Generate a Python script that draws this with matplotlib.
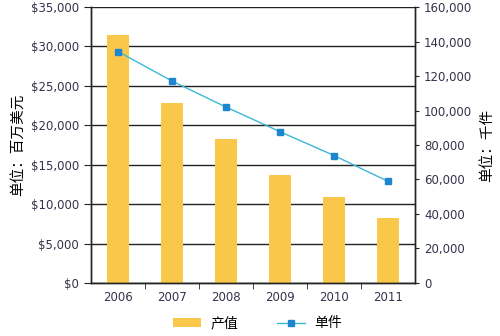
import matplotlib.pyplot as plt
from matplotlib.ticker import FuncFormatter, FixedLocator

plt.rcParams['font.family'] = ['DejaVu Sans', 'Noto Sans CJK SC']

# data
years = ['2006', '2007', '2008', '2009', '2010', '2011']
value_musd = [31400, 22800, 18200, 13700, 10900, 8250]
units_k = [134200, 117100, 102000, 87700, 73900, 58900]

bar_color = '#F9C84A'
line_color = '#3CB8D6'
marker_color = '#1E86CF'
text_color = '#33334D'
cjk = ['Noto Sans CJK SC', 'DejaVu Sans']

fig = plt.figure(figsize=(5, 3.36), dpi=100)
ax = fig.add_axes([0.182, 0.158, 0.648, 0.821])
ax2 = ax.twinx()

x = list(range(len(years)))
bars = ax.bar(x, value_musd, width=0.41, color=bar_color, zorder=2, label='产值')
ax.set_ylim(0, 35000)
ax.set_xlim(-0.5, len(years) - 0.5)
ax.set_yticks(range(0, 35001, 5000))
ax.yaxis.set_major_formatter(FuncFormatter(lambda v, p: '${:,.0f}'.format(v)))
ax.grid(axis='y', color='#222222', linewidth=1.0, zorder=0)
ax.set_axisbelow(True)

ax.set_xticks(x)
ax.set_xticklabels(years)
ax.xaxis.set_minor_locator(FixedLocator([i + 0.5 for i in range(len(years) - 1)]))
ax.tick_params(axis='x', which='major', length=0, pad=6, labelsize=8.5, labelcolor=text_color)
ax.tick_params(axis='x', which='minor', length=4, color='#222222', direction='out')
ax.tick_params(axis='y', length=5, color='#222222', labelsize=8.5, labelcolor=text_color, direction='out')

line, = ax2.plot(x, units_k, color=line_color, linewidth=1.0, marker='s', markersize=4,
                 markerfacecolor=marker_color, markeredgecolor=marker_color, label='单件')
ax2.set_ylim(0, 160000)
ax2.set_yticks(range(0, 160001, 20000))
ax2.yaxis.set_major_formatter(FuncFormatter(lambda v, p: '{:,.0f}'.format(v)))
ax2.tick_params(axis='y', length=3, color='#222222', labelsize=8.5, labelcolor=text_color, direction='out')

for a in (ax, ax2):
    a.spines['top'].set_visible(False)
    for s in ('left', 'right', 'bottom'):
        a.spines[s].set_color('#222222')
        a.spines[s].set_linewidth(1.0)

ax.set_ylabel('单位：百万美元', family=cjk, fontsize=10.5, labelpad=4)
ax2.set_ylabel('单位：千件', family=cjk, fontsize=10.5, labelpad=6)

fig.legend([bars, line], ['产值', '单件'], loc='lower center', bbox_to_anchor=(0.515, -0.02),
           ncol=2, frameon=False, prop={'family': cjk, 'size': 10},
           handlelength=2.0, handleheight=0.6, handletextpad=0.7, columnspacing=2.8)

fig.savefig('out.png', dpi=100)
